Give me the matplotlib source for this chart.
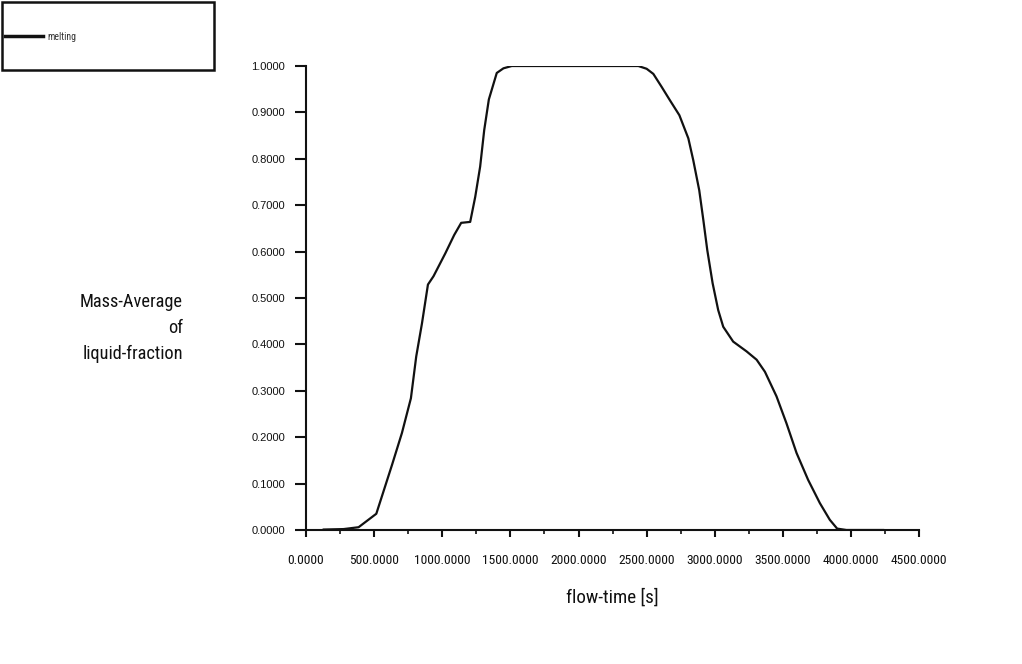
"""Mass-average liquid fraction over flow time (melting / solidification run)."""

import matplotlib

matplotlib.use("Agg")
import matplotlib.pyplot as plt
from matplotlib import font_manager
from matplotlib.lines import Line2D
from matplotlib.patches import Rectangle
from matplotlib.ticker import FixedLocator, MultipleLocator

# flow-time [s] and mass-average liquid fraction
flow_time = [
    130, 276, 386, 516, 631, 704, 770, 809, 851, 895, 936, 1022, 1088, 1139,
    1205, 1242, 1278, 1308, 1342, 1400, 1449, 1510, 2000, 2439, 2500, 2549,
    2610, 2671, 2740, 2806, 2842, 2886, 2916, 2945, 2984, 3025, 3062, 3135,
    3233, 3307, 3368, 3453, 3526, 3600, 3685, 3771, 3844, 3898, 3966, 4235,
]
liquid_fraction = [
    0.001, 0.002, 0.006, 0.035, 0.140, 0.209, 0.284, 0.374, 0.445, 0.529,
    0.547, 0.596, 0.636, 0.662, 0.664, 0.718, 0.783, 0.862, 0.928, 0.985,
    0.995, 1.000, 1.000, 1.000, 0.994, 0.983, 0.955, 0.926, 0.894, 0.844,
    0.797, 0.732, 0.668, 0.603, 0.532, 0.474, 0.438, 0.406, 0.385, 0.367,
    0.341, 0.288, 0.230, 0.166, 0.108, 0.058, 0.022, 0.003, 0.000, 0.000,
]
series_name = "melting"
x_ticks = [0, 500, 1000, 1500, 2000, 2500, 3000, 3500, 4000, 4500]
y_ticks = [0.0, 0.1, 0.2, 0.3, 0.4, 0.5, 0.6, 0.7, 0.8, 0.9, 1.0]


def find_narrow_font():
    # prefer the narrowest regular sans face that happens to be installed
    skip = ("bold", "oblique", "italic", "light", "thin", "medium", "black", "mono", "semi")
    files = []
    for f in font_manager.fontManager.ttflist:
        base = f.fname.lower().replace(" ", "").replace("_", "").replace("-", "")
        if any(s in base for s in skip):
            continue
        files.append((base, f.fname))
    for key in ("liberationsansnarrow", "arialnarrow", "robotocondensed",
                "opensanscondensed", "narrow", "condensed"):
        for base, path in files:
            if key in base:
                return path
    return None


narrow_file = find_narrow_font()


def font(size, narrow=True):
    if narrow and narrow_file:
        return font_manager.FontProperties(fname=narrow_file, size=size)
    return font_manager.FontProperties(family="Liberation Sans", size=size)


fig = plt.figure(figsize=(10.22, 6.64), dpi=100)
ax = fig.add_axes([0.2994, 0.2018, 0.6, 0.6988])

ax.plot(flow_time, liquid_fraction, color="#111111", lw=1.6)

ax.set_xlim(0, 4500)
ax.set_ylim(0, 1.0)
ax.xaxis.set_major_locator(FixedLocator(x_ticks))
ax.xaxis.set_minor_locator(MultipleLocator(250))
ax.yaxis.set_major_locator(FixedLocator(y_ticks))
ax.set_xticklabels([f"{v:.4f}" for v in x_ticks], fontproperties=font(9.7))
ax.set_yticklabels([f"{v:.4f}" for v in y_ticks], fontproperties=font(8, narrow=False))

for side in ("top", "right"):
    ax.spines[side].set_visible(False)
for side in ("left", "bottom"):
    ax.spines[side].set_linewidth(1.5)
    ax.spines[side].set_color("#111111")

ax.tick_params(axis="y", direction="out", length=8, width=1.5, pad=7, colors="#111111")
ax.tick_params(axis="x", which="major", direction="out", length=5, width=1.5, pad=12,
               colors="#111111")
ax.tick_params(axis="x", which="minor", direction="out", length=3, width=1.2,
               colors="#111111")

fig.text(612 / 1022, 1 - 598 / 664, "flow-time [s]", ha="center", va="center",
         fontproperties=font(13.7), color="#111111")
fig.text(183 / 1022, 1 - 328 / 664, "Mass-Average\nof\nliquid-fraction",
         ha="right", va="center", multialignment="right",
         fontproperties=font(13.2), linespacing=1.55, color="#111111")

# legend box in the top-left corner
fig.add_artist(Rectangle((2 / 1022, 1 - 70 / 664), 212 / 1022, 68 / 664,
                         transform=fig.transFigure, fill=False, lw=1.8,
                         edgecolor="#111111"))
fig.add_artist(Line2D([5 / 1022, 43 / 1022], [1 - 36 / 664, 1 - 36 / 664],
                      transform=fig.transFigure, color="#111111", lw=2.5))
fig.text(47 / 1022, 1 - 37 / 664, series_name, ha="left", va="center",
         fontproperties=font(7), color="#333333")

fig.savefig("out.png", dpi=100)
plt.close(fig)
